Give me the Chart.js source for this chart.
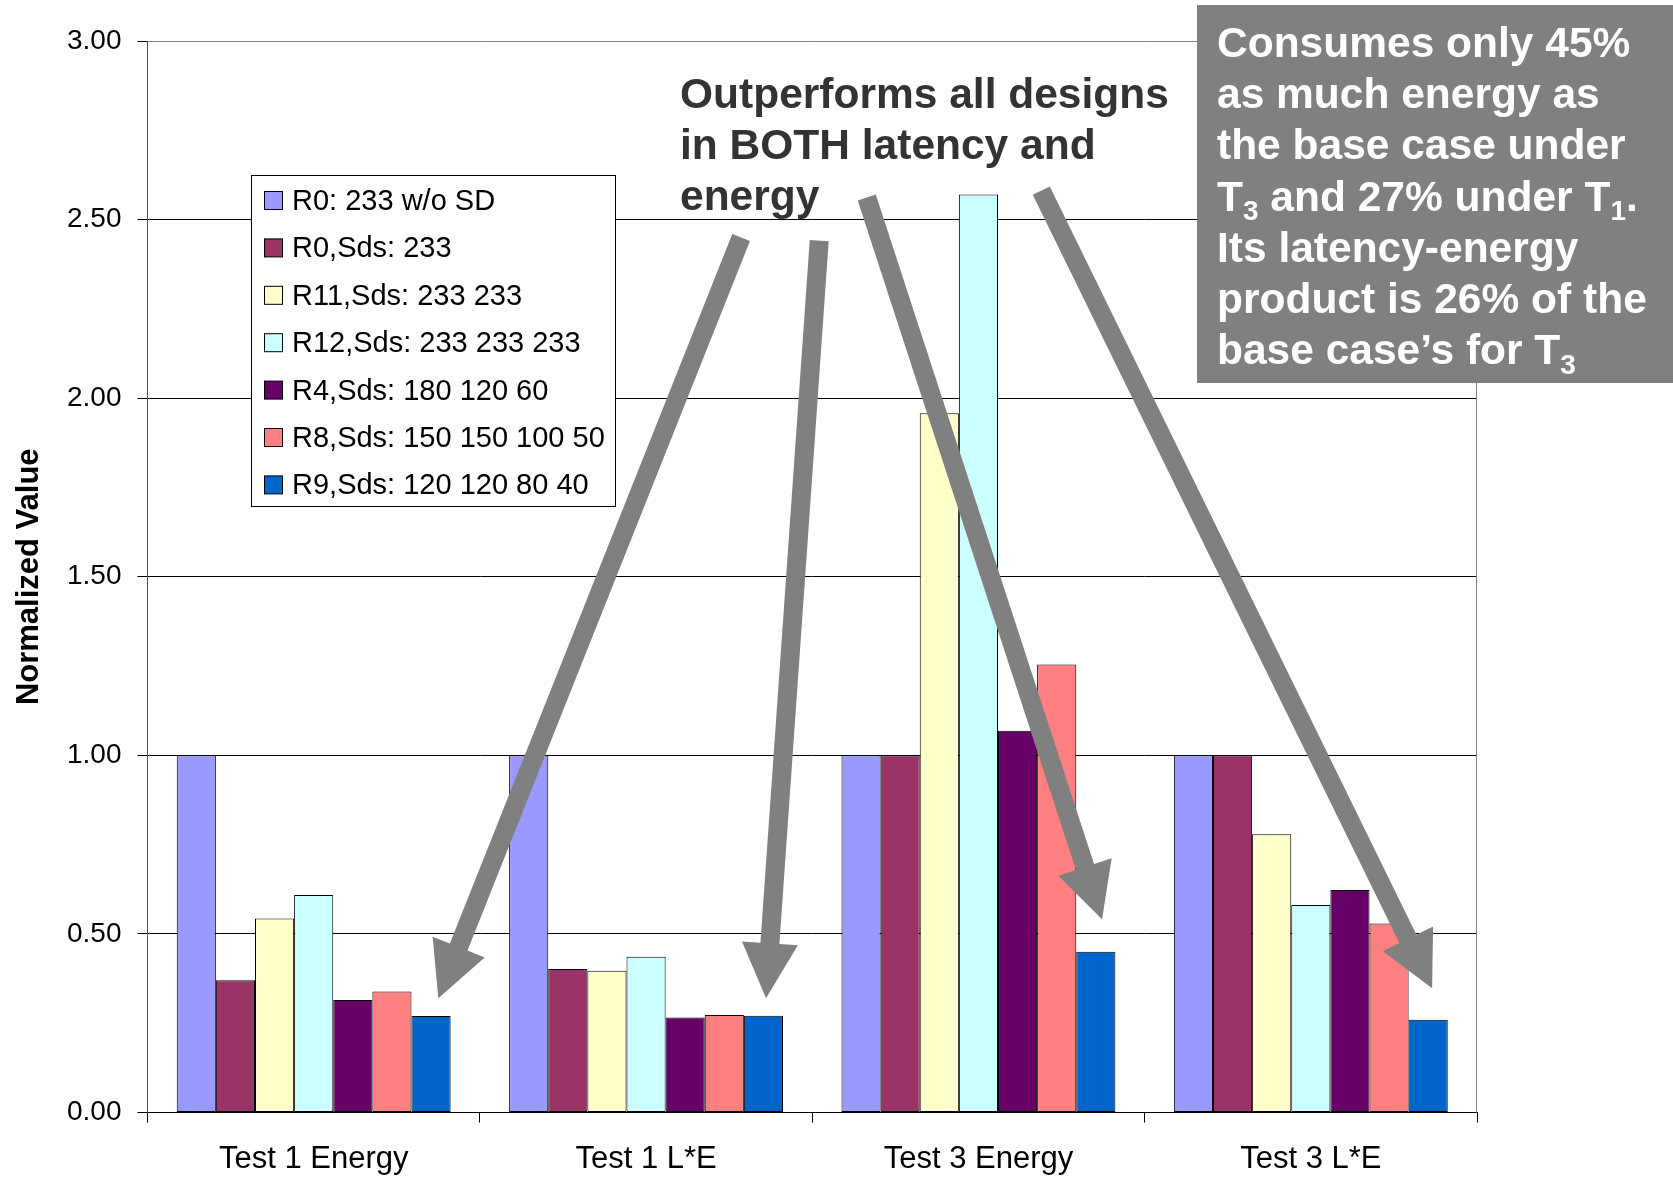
<!DOCTYPE html>
<html>
<head>
<meta charset="utf-8">
<script src="https://cdn.jsdelivr.net/npm/chart.js@4/dist/chart.umd.min.js"></script>
<style>
  html, body { margin: 0; padding: 0; background: #ffffff; }
  canvas { display: block; }
</style>
</head>
<body>
<canvas id="chart" width="1673" height="1180"></canvas>
<script>
// Categories on the x axis
const categories = ['Test 1 Energy', 'Test 1 L*E', 'Test 3 Energy', 'Test 3 L*E'];

// Series names (legend order)
const seriesNames = [
  'R0: 233 w/o SD',
  'R0,Sds: 233',
  'R11,Sds: 233 233',
  'R12,Sds: 233 233 233',
  'R4,Sds: 180 120 60',
  'R8,Sds: 150 150 100 50',
  'R9,Sds: 120 120 80 40'
];

// Normalized values per series, one per category
const r0NoSd  = [1.00, 1.00, 1.00, 1.00];
const r0Sds   = [0.370, 0.402, 1.00, 1.00];
const r11Sds  = [0.543, 0.397, 1.958, 0.779];
const r12Sds  = [0.609, 0.436, 2.570, 0.581];
const r4Sds   = [0.315, 0.266, 1.069, 0.623];
const r8Sds   = [0.339, 0.273, 1.254, 0.529];
const r9Sds   = [0.27, 0.271, 0.45, 0.26];

const seriesValues = [r0NoSd, r0Sds, r11Sds, r12Sds, r4Sds, r8Sds, r9Sds];
const seriesColors = ['#9999FF', '#993366', '#FFFFCC', '#CCFFFF', '#660066', '#FF8080', '#0066CC'];

// Y axis range and tick step
const yMin = 0;
const yMax = 3;
const yStep = 0.5;

// Callout arrows, in data units: [category position, value]
const arrowTails = [[1.286, 2.450], [1.521, 2.441], [1.664, 2.562], [2.189, 2.581]];
const arrowTips  = [[0.375, 0.320], [1.361, 0.320], [2.372, 0.541], [3.365, 0.348]];

// Annotation texts (segments with optional subscripts)
const leftNoteLines = [
  [{ t: 'Outperforms all designs' }],
  [{ t: 'in BOTH latency and' }],
  [{ t: 'energy' }]
];
const rightNoteLines = [
  [{ t: 'Consumes only 45%' }],
  [{ t: 'as much energy as' }],
  [{ t: 'the base case under' }],
  [{ t: 'T' }, { t: '3', sub: true }, { t: ' and 27% under T' }, { t: '1', sub: true }, { t: '.' }],
  [{ t: 'Its latency-energy' }],
  [{ t: 'product is 26% of the' }],
  [{ t: 'base case\u2019s for T' }, { t: '3', sub: true }]
];

const FONT = '"Liberation Sans", Arial, Helvetica, sans-serif';
const ARROW_GRAY = '#808080';

function drawRichLine(ctx, segs, x, y, size, subSize) {
  let cx = x;
  for (const s of segs) {
    if (s.sub) {
      ctx.font = 'bold ' + subSize + 'px ' + FONT;
      ctx.fillText(s.t, cx, y + size * 0.22);
    } else {
      ctx.font = 'bold ' + size + 'px ' + FONT;
      ctx.fillText(s.t, cx, y);
    }
    cx += ctx.measureText(s.t).width;
  }
}

function drawArrow(ctx, tx, ty, px, py) {
  const shaft = 19, headLen = 55, headHalf = 28;
  const dx = px - tx, dy = py - ty;
  const len = Math.hypot(dx, dy);
  const ux = dx / len, uy = dy / len;
  const nx = -uy, ny = ux;
  const bx = px - ux * headLen, by = py - uy * headLen;
  const h = shaft / 2;
  ctx.beginPath();
  ctx.moveTo(tx + nx * h, ty + ny * h);
  ctx.lineTo(bx + nx * h, by + ny * h);
  ctx.lineTo(bx + nx * headHalf, by + ny * headHalf);
  ctx.lineTo(px, py);
  ctx.lineTo(bx - nx * headHalf, by - ny * headHalf);
  ctx.lineTo(bx - nx * h, by - ny * h);
  ctx.lineTo(tx - nx * h, ty - ny * h);
  ctx.closePath();
  ctx.fillStyle = ARROW_GRAY;
  ctx.fill();
}

const overlayPlugin = {
  id: 'overlay',
  afterDatasetsDraw(chart) {
    const ctx = chart.ctx;
    const area = chart.chartArea;
    const xs = chart.scales.x, ys = chart.scales.y;

    // right border of the plot area
    ctx.save();
    ctx.strokeStyle = '#808080';
    ctx.lineWidth = 1;
    ctx.beginPath();
    ctx.moveTo(Math.round(area.right) - 0.5, area.top);
    ctx.lineTo(Math.round(area.right) - 0.5, area.bottom);
    ctx.stroke();
    ctx.restore();

    // legend box
    ctx.save();
    const lx = 251.5, ly = 175.5, lw = 364, lh = 331;
    ctx.fillStyle = '#ffffff';
    ctx.fillRect(lx, ly, lw, lh);
    ctx.strokeStyle = '#000000';
    ctx.lineWidth = 1;
    ctx.strokeRect(lx, ly, lw, lh);
    ctx.font = '29px ' + FONT;
    ctx.textBaseline = 'middle';
    ctx.textAlign = 'left';
    chart.data.datasets.forEach((ds, i) => {
      const cy = 201 + i * 47.4;
      ctx.fillStyle = ds.backgroundColor;
      ctx.fillRect(264.5, cy - 9.5, 18, 18);
      ctx.strokeStyle = '#000000';
      ctx.strokeRect(264.5, cy - 9.5, 18, 18);
      ctx.fillStyle = '#000000';
      ctx.fillText(ds.label, 292, cy + 1);
    });
    ctx.restore();

    // arrows
    ctx.save();
    for (let i = 0; i < arrowTails.length; i++) {
      const t = arrowTails[i], p = arrowTips[i];
      drawArrow(ctx,
        xs.getPixelForValue(t[0]), ys.getPixelForValue(t[1]),
        xs.getPixelForValue(p[0]), ys.getPixelForValue(p[1]));
    }
    ctx.restore();
  },
  afterDraw(chart) {
    const ctx = chart.ctx;
    ctx.save();
    ctx.textBaseline = 'alphabetic';
    ctx.textAlign = 'left';

    // left note
    ctx.fillStyle = '#333333';
    leftNoteLines.forEach((segs, i) => {
      drawRichLine(ctx, segs, 680, 108 + i * 51.2, 42.5, 28);
    });

    // right note box
    ctx.fillStyle = '#808080';
    ctx.fillRect(1197, 5, 476, 378);
    ctx.fillStyle = '#ffffff';
    rightNoteLines.forEach((segs, i) => {
      drawRichLine(ctx, segs, 1217, 57 + i * 51.2, 42.5, 28);
    });
    ctx.restore();
  }
};

const datasets = seriesNames.map((name, i) => ({
  label: name,
  data: seriesValues[i],
  backgroundColor: seriesColors[i],
  borderColor: '#000000',
  borderWidth: 1,
  borderSkipped: false,
  categoryPercentage: 0.824,
  barPercentage: 1.0
}));

new Chart(document.getElementById('chart'), {
  type: 'bar',
  data: { labels: categories, datasets: datasets },
  plugins: [overlayPlugin],
  options: {
    responsive: false,
    animation: false,
    devicePixelRatio: 1,
    layout: { padding: { top: 41, right: 196, bottom: 0, left: 0 } },
    plugins: {
      legend: { display: false },
      tooltip: { enabled: false },
      title: { display: false }
    },
    scales: {
      x: {
        grid: {
          drawOnChartArea: false,
          drawTicks: true,
          tickLength: 10,
          color: '#000000',
          tickColor: '#000000'
        },
        border: { display: true, color: '#000000', width: 1 },
        ticks: {
          color: '#000000',
          font: { family: FONT, size: 31 },
          padding: 18,
          maxRotation: 0
        },
        afterFit(scale) { scale.height = 67.5; }
      },
      y: {
        min: yMin,
        max: yMax,
        grid: {
          color: (c) => (c.tick && c.tick.value === yMax) ? '#808080' : '#000000',
          tickColor: '#000000',
          tickLength: 10,
          drawTicks: true
        },
        border: { display: true, color: '#555555', width: 1 },
        ticks: {
          stepSize: yStep,
          color: '#000000',
          font: { family: FONT, size: 28 },
          padding: 16,
          callback: (v) => Number(v).toFixed(2)
        },
        title: {
          display: true,
          text: 'Normalized Value',
          color: '#000000',
          font: { family: FONT, size: 31, weight: 'bold' },
          padding: { top: 11, bottom: 0 }
        },
        afterFit(scale) { scale.width = 147.5; }
      }
    }
  }
});
</script>
</body>
</html>
